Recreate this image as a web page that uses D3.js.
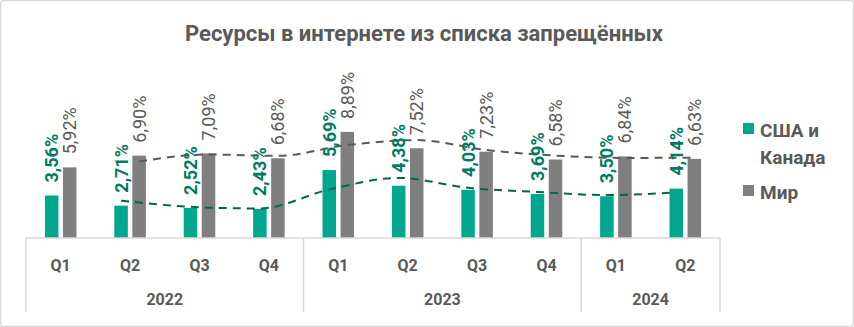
<!DOCTYPE html>
<html>
<head>
<meta charset="utf-8">
<script src="https://cdn.jsdelivr.net/npm/d3@7"></script>
<style>
  html, body { margin: 0; padding: 0; background: #fff; }
  svg { display: block; }
</style>
</head>
<body>
<svg id="chart" width="854" height="327"></svg>
<script>
// Quarterly share of blocked resources, %
const quarters = ["Q1", "Q2", "Q3", "Q4", "Q1", "Q2", "Q3", "Q4", "Q1", "Q2"];
const years = [
  { label: "2022", from: 0, to: 4 },
  { label: "2023", from: 4, to: 8 },
  { label: "2024", from: 8, to: 10 }
];
const usaCanada = [3.56, 2.71, 2.52, 2.43, 5.69, 4.38, 4.03, 3.69, 3.50, 4.14];
const world = [5.92, 6.90, 7.09, 6.68, 8.89, 7.52, 7.23, 6.58, 6.84, 6.63];
const seriesNames = ["США и Канада", "Мир"];
const title = "Ресурсы в интернете из списка запрещённых";

const FONT = "Roboto, 'Noto Sans', sans-serif";
const GREEN = "#00a78e", GREEN_LABEL = "#007a63", GREEN_TREND = "#00664f";
const GREY = "#7f7f7f", GREY_LABEL = "#595959", GREY_TREND = "#595959";
const TEXT = "#595959", AXIS = "#d9d9d9";

const svg = d3.select("#chart");

// outer frame
svg.append("rect")
  .attr("x", 0.5).attr("y", 0.5).attr("width", 853).attr("height", 326)
  .attr("rx", 3).attr("fill", "#fff").attr("stroke", AXIS).attr("stroke-width", 1.5);

// title
svg.append("text")
  .attr("x", 424).attr("y", 41)
  .attr("text-anchor", "middle")
  .attr("font-family", FONT).attr("font-weight", "bold").attr("font-size", 22)
  .attr("fill", TEXT)
  .text(title);

const plot = { left: 26, right: 720, top: 59, bottom: 238 };

const x = d3.scaleBand()
  .domain(d3.range(quarters.length))
  .range([plot.left, plot.right])
  .paddingInner(0).paddingOuter(0);

const xSub = d3.scaleBand()
  .domain([0, 1])
  .range([0, x.bandwidth()])
  .paddingInner(0.25)
  .paddingOuter(1.05);

const y = d3.scaleLinear().domain([0, 15]).range([plot.bottom, plot.top]);

const series = [
  { name: seriesNames[0], values: usaCanada, color: GREEN, labelColor: GREEN_LABEL, trend: GREEN_TREND, bold: true },
  { name: seriesNames[1], values: world, color: GREY, labelColor: GREY_LABEL, trend: GREY_TREND, bold: false }
];

const fmt = v => v.toFixed(2).replace(".", ",") + "%";

// bars
series.forEach((s, si) => {
  const g = svg.append("g");
  g.selectAll("rect")
    .data(s.values)
    .join("rect")
    .attr("x", (d, i) => x(i) + xSub(si))
    .attr("y", d => y(d))
    .attr("width", xSub.bandwidth())
    .attr("height", d => y(0) - y(d))
    .attr("fill", s.color);
});

// two-period moving averages
series.forEach((s, si) => {
  const ma = s.values.slice(1).map((v, k) => ({ i: k + 1, v: (v + s.values[k]) / 2 }));
  const line = d3.line()
    .x(d => x(d.i) + xSub(si) + xSub.bandwidth() / 2)
    .y(d => y(d.v))
    .curve(d3.curveMonotoneX);
  svg.append("path")
    .attr("d", line(ma))
    .attr("fill", "none")
    .attr("stroke", s.trend)
    .attr("stroke-width", 2)
    .attr("stroke-dasharray", "8,6");
});

// value labels (rotated)
series.forEach((s, si) => {
  svg.append("g").selectAll("text")
    .data(s.values)
    .join("text")
    .attr("transform", (d, i) => {
      const cx = x(i) + xSub(si) + xSub.bandwidth() / 2;
      return `translate(${cx + 6.5},${y(d) - 13}) rotate(-90)`;
    })
    .attr("font-family", FONT)
    .attr("font-size", 18)
    .attr("font-weight", s.bold ? "bold" : "normal")
    .attr("fill", s.labelColor)
    .text(d => fmt(d));
});

// category axis: baseline, group dividers, labels
const axisG = svg.append("g").attr("stroke", AXIS).attr("stroke-width", 1.5);
axisG.append("line")
  .attr("x1", plot.left).attr("x2", plot.right)
  .attr("y1", plot.bottom).attr("y2", plot.bottom);
const dividers = [0, ...years.map(yv => yv.to)];
axisG.selectAll("line.div")
  .data(dividers)
  .join("line")
  .attr("class", "div")
  .attr("x1", d => d === quarters.length ? plot.right : x(d))
  .attr("x2", d => d === quarters.length ? plot.right : x(d))
  .attr("y1", plot.bottom).attr("y2", 312);

svg.append("g").selectAll("text")
  .data(quarters)
  .join("text")
  .attr("x", (d, i) => x(i) + x.bandwidth() / 2)
  .attr("y", 271)
  .attr("text-anchor", "middle")
  .attr("font-family", FONT).attr("font-weight", "bold").attr("font-size", 16)
  .attr("fill", TEXT)
  .text(d => d);

svg.append("g").selectAll("text")
  .data(years)
  .join("text")
  .attr("x", d => (x(d.from) + (d.to === quarters.length ? plot.right : x(d.to))) / 2)
  .attr("y", 305)
  .attr("text-anchor", "middle")
  .attr("font-family", FONT).attr("font-weight", "bold").attr("font-size", 16)
  .attr("fill", TEXT)
  .text(d => d.label);

// legend
const legend = svg.append("g").attr("font-family", FONT).attr("font-weight", "bold")
  .attr("font-size", 19).attr("fill", TEXT);
legend.append("rect").attr("x", 743).attr("y", 123).attr("width", 11).attr("height", 11).attr("fill", GREEN);
legend.append("text").attr("x", 760).attr("y", 137).text("США и");
legend.append("text").attr("x", 760).attr("y", 164).text("Канада");
legend.append("rect").attr("x", 743).attr("y", 185).attr("width", 11).attr("height", 11).attr("fill", GREY);
legend.append("text").attr("x", 760).attr("y", 199).text(seriesNames[1]);
</script>
</body>
</html>
